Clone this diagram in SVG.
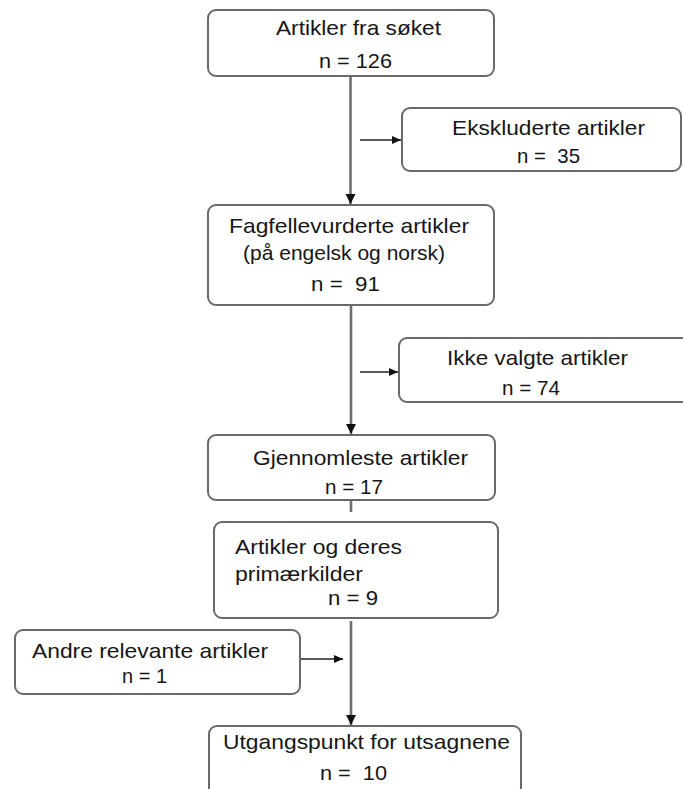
<svg xmlns="http://www.w3.org/2000/svg" width="683" height="789" viewBox="0 0 683 789">
  <defs>
    <style>
      .box { fill: #ffffff; stroke: #6a6a6a; stroke-width: 2; }
      .t { font-family: "Liberation Sans", Arial, sans-serif; font-size: 21px; fill: #161616; }
      .main { stroke: #6e6e6e; stroke-width: 2.6; fill: none; }
      .side { stroke: #222222; stroke-width: 1.6; fill: none; }
    </style>
    <marker id="arrowMain" markerUnits="userSpaceOnUse" markerWidth="12" markerHeight="12" refX="10" refY="6" orient="auto">
      <path d="M0,1 L10,6 L0,11 Z" fill="#111111"/>
    </marker>
    <marker id="arrowSide" markerUnits="userSpaceOnUse" markerWidth="10" markerHeight="10" refX="9" refY="5" orient="auto">
      <path d="M0,1 L9,5 L0,9 Z" fill="#111111"/>
    </marker>
  </defs>

  <!-- connectors -->
  <g id="connectors">
    <line class="main" x1="350.5" y1="76" x2="350.5" y2="204" marker-end="url(#arrowMain)"/>
    <line class="side" x1="360" y1="140" x2="401" y2="140" marker-end="url(#arrowSide)"/>
    <line class="main" x1="351" y1="306" x2="351" y2="434" marker-end="url(#arrowMain)"/>
    <line class="side" x1="360" y1="372" x2="398" y2="372" marker-end="url(#arrowSide)"/>
    <line class="main" x1="351" y1="501" x2="351" y2="512"/>
    <line class="main" x1="351" y1="621" x2="351" y2="725" marker-end="url(#arrowMain)"/>
    <line class="side" x1="301" y1="659" x2="343" y2="659" marker-end="url(#arrowSide)"/>
  </g>

  <g id="node-sok">
    <rect class="box" x="208" y="10" width="286" height="66" rx="8"/>
    <text class="t" x="276" y="35" textLength="165" lengthAdjust="spacingAndGlyphs">Artikler fra søket</text>
    <text class="t" x="319" y="68" textLength="73" lengthAdjust="spacingAndGlyphs">n = 126</text>
  </g>

  <g id="node-ekskluderte">
    <rect class="box" x="402" y="108" width="279" height="63" rx="8"/>
    <text class="t" x="452" y="135" textLength="193" lengthAdjust="spacingAndGlyphs">Ekskluderte artikler</text>
    <text class="t" x="517" y="163" textLength="63" lengthAdjust="spacingAndGlyphs" xml:space="preserve">n =  35</text>
  </g>

  <g id="node-fagfelle">
    <rect class="box" x="208" y="205" width="286" height="100" rx="8"/>
    <text class="t" x="229" y="233" textLength="240" lengthAdjust="spacingAndGlyphs">Fagfellevurderte artikler</text>
    <text class="t" x="243" y="260" textLength="202" lengthAdjust="spacingAndGlyphs">(på engelsk og norsk)</text>
    <text class="t" x="311" y="291" textLength="69" lengthAdjust="spacingAndGlyphs" xml:space="preserve">n =  91</text>
  </g>

  <g id="node-ikke-valgte">
    <rect class="box" x="399" y="338" width="300" height="64" rx="8"/>
    <text class="t" x="447" y="365" textLength="181" lengthAdjust="spacingAndGlyphs">Ikke valgte artikler</text>
    <text class="t" x="502" y="395" textLength="58" lengthAdjust="spacingAndGlyphs">n = 74</text>
  </g>

  <g id="node-gjennomleste">
    <rect class="box" x="208" y="435" width="287" height="65" rx="8"/>
    <text class="t" x="253" y="465" textLength="215" lengthAdjust="spacingAndGlyphs">Gjennomleste artikler</text>
    <text class="t" x="325" y="494" textLength="58" lengthAdjust="spacingAndGlyphs">n = 17</text>
  </g>

  <g id="node-primaerkilder">
    <rect class="box" x="214" y="522" width="284" height="96" rx="8"/>
    <text class="t" x="235" y="554" textLength="167" lengthAdjust="spacingAndGlyphs">Artikler og deres</text>
    <text class="t" x="235" y="581" textLength="128" lengthAdjust="spacingAndGlyphs">primærkilder</text>
    <text class="t" x="328" y="605" textLength="50" lengthAdjust="spacingAndGlyphs">n = 9</text>
  </g>

  <g id="node-andre">
    <rect class="box" x="15" y="630" width="285" height="64" rx="8"/>
    <text class="t" x="32" y="658" textLength="236" lengthAdjust="spacingAndGlyphs">Andre relevante artikler</text>
    <text class="t" x="122" y="683" textLength="45" lengthAdjust="spacingAndGlyphs">n = 1</text>
  </g>

  <g id="node-utgangspunkt">
    <rect class="box" x="209" y="726" width="312" height="70" rx="8"/>
    <text class="t" x="223" y="749" textLength="287" lengthAdjust="spacingAndGlyphs">Utgangspunkt for utsagnene</text>
    <text class="t" x="320" y="780" textLength="67" lengthAdjust="spacingAndGlyphs" xml:space="preserve">n =  10</text>
  </g>
</svg>
